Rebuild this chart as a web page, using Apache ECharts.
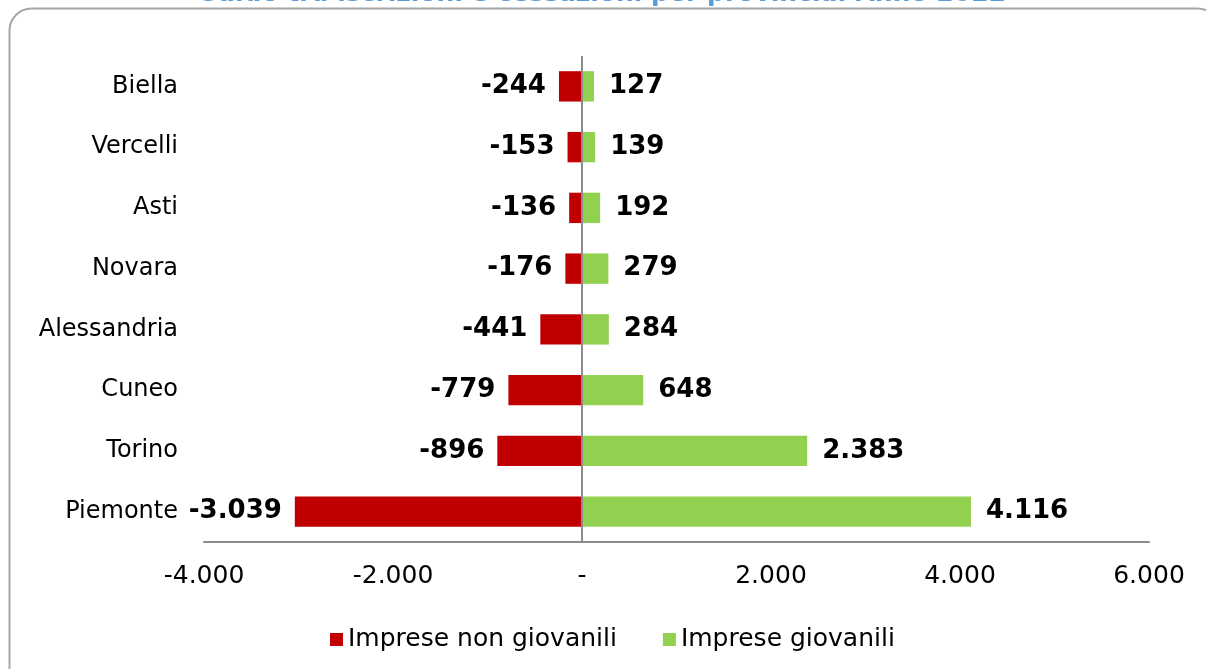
<!DOCTYPE html>
<html><head><meta charset="utf-8">
<script src="https://cdn.jsdelivr.net/npm/echarts@6/dist/echarts.min.js"></script>
<style>html,body{margin:0;padding:0;background:#fff}#c{width:1206px;height:669px}</style>
</head><body><div id="c"></div>
<script>
const titleText = 'Saldo tra iscrizioni e cessazioni per provincia. Anno 2022';
const categories = ['Biella','Vercelli','Asti','Novara','Alessandria','Cuneo','Torino','Piemonte'];
const nonGiovanili = [-244,-153,-136,-176,-441,-779,-896,-3039];
const giovanili = [127,139,192,279,284,648,2383,4116];
const seriesNames = ['Imprese non giovanili','Imprese giovanili'];
const axisMin = -4000, axisMax = 6000, axisStep = 2000;

function fmt(v){
  if (v === 0) return '-';
  const s = Math.abs(v).toString().replace(/\B(?=(\d{3})+(?!\d))/g,'.');
  return (v<0?'-':'') + s;
}
const FONT = 'DejaVu Sans';
const chart = echarts.init(document.getElementById('c'), null, {renderer:'canvas'});
chart.setOption({
  backgroundColor:'#fff',
  animation:false,
  title:{text:titleText, left:'center', top:-23,
    textStyle:{color:'#5B9BD5', fontFamily:FONT, fontWeight:'bold', fontSize:25}},
  graphic:[{type:'rect', left:7, top:6, z:-1,
    shape:{width:1210, height:700, r:22},
    style:{fill:'none', stroke:'#A6A6A6', lineWidth:2}}],
  grid:{left:204, right:57, top:56, bottom:127, containLabel:false},
  legend:{left:325, top:622, itemWidth:13, itemHeight:13, itemGap:46, icon:'rect',
    textStyle:{fontFamily:FONT, fontSize:25, color:'#000'},
    data:seriesNames},
  xAxis:{type:'value', min:axisMin, max:axisMax, interval:axisStep,
    axisLine:{show:true, lineStyle:{color:'#8c8c8c', width:2}},
    axisTick:{show:false}, splitLine:{show:false},
    axisLabel:{formatter:fmt, margin:22, fontFamily:FONT, fontSize:25, color:'#000'}},
  yAxis:{type:'category', data:categories, inverse:true,
    axisLine:{show:false}, axisTick:{show:false},
    axisLabel:{margin:26, fontFamily:FONT, fontSize:24, color:'#000'}},
  series:[
    {name:seriesNames[0], type:'bar', stack:'t', data:nonGiovanili, barWidth:'50%',
     itemStyle:{color:'#C00000'},
     label:{show:true, position:'left', distance:13, formatter:p=>fmt(p.value),
       fontFamily:FONT, fontWeight:'bold', fontSize:26, color:'#000'},
     markLine:{silent:true, symbol:'none', label:{show:false},
       lineStyle:{color:'#8c8c8c', type:'solid', width:2},
       data:[{xAxis:0}]}},
    {name:seriesNames[1], type:'bar', stack:'t', data:giovanili, barWidth:'50%',
     itemStyle:{color:'#92D050'},
     label:{show:true, position:'right', distance:15, formatter:p=>fmt(p.value),
       fontFamily:FONT, fontWeight:'bold', fontSize:26, color:'#000'}}
  ]
});
</script></body></html>
